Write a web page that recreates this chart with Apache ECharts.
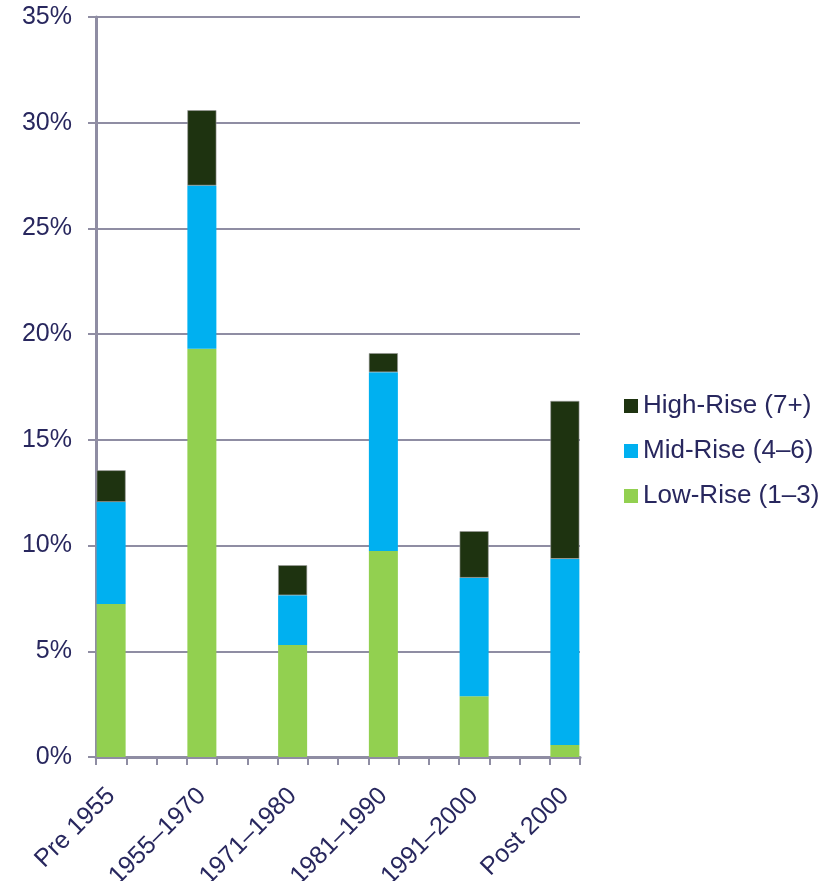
<!DOCTYPE html>
<html><head><meta charset="utf-8">
<script src="https://cdn.jsdelivr.net/npm/echarts@6/dist/echarts.min.js"></script>
<style>html,body{margin:0;padding:0;background:#fff}#c{width:838px;height:881px}</style>
</head><body><div id="c"></div>
<script>
const categories = ['Pre 1955','1955–1970','1971–1980','1981–1990','1991–2000','Post 2000'];
const lowRise  = [7.24, 19.31, 5.30, 9.74, 2.87, 0.57];
const midRise  = [4.82, 7.72, 2.35, 8.46, 5.61, 8.80];
const highRise = [1.50, 3.56, 1.42, 0.90, 2.20, 7.47];
const seriesNames = ['Low-Rise (1–3)','Mid-Rise (4–6)','High-Rise (7+)'];
const yTicks = [0,5,10,15,20,25,30,35];

// 16 slots on the category axis; bars sit in every third slot
const SLOTS = 16, STEP = 3;
const axisCats = [];
for (let i = 0; i < SLOTS; i++) axisCats.push('');
categories.forEach((c, i) => { axisCats[i * STEP] = c; });
function spread(arr) {
  const out = new Array(SLOTS).fill(null);
  arr.forEach((v, i) => { out[i * STEP] = v; });
  return out;
}
const txt = '#28275e', ax = '#8f8da3';
const font = 'Liberation Sans, Arial, sans-serif';
const chart = echarts.init(document.getElementById('c'));
chart.setOption({
  animation: false,
  grid: {left: 96, right: 258, top: 17, bottom: 124, containLabel: false, outerBoundsMode: 'none'},
  legend: {
    orient: 'vertical', left: 619, top: 388,
    data: [seriesNames[2], seriesNames[1], seriesNames[0]],
    itemWidth: 14, itemHeight: 14, itemGap: 19, icon: 'rect',
    itemStyle: {borderWidth: 0},
    textStyle: {color: txt, fontSize: 26, fontFamily: font, padding: [0,0,0,0]}
  },
  xAxis: {
    type: 'category', data: axisCats,
    axisLine: {lineStyle: {color: ax, width: 3}},
    axisTick: {show: true, interval: 0, length: 8, lineStyle: {color: ax, width: 2}},
    axisLabel: {interval: 0, rotate: 45, color: txt, fontSize: 25, fontFamily: font, margin: 35}
  },
  yAxis: {
    type: 'value', min: 0, max: 35, interval: 5,
    axisLine: {show: true, lineStyle: {color: ax, width: 3}},
    axisTick: {show: true, length: 8, lineStyle: {color: ax, width: 2}},
    splitLine: {lineStyle: {color: ax, width: 2}},
    axisLabel: {color: txt, fontSize: 25, fontFamily: font, margin: 24,
      formatter: v => yTicks.includes(v) ? v + '%' : ''}
  },
  series: [
    {name: seriesNames[0], type: 'bar', stack: 's', data: spread(lowRise), barWidth: 29,
     itemStyle: {color: '#92d050'}},
    {name: seriesNames[1], type: 'bar', stack: 's', data: spread(midRise), barWidth: 29,
     itemStyle: {color: '#00b0f0'}},
    {name: seriesNames[2], type: 'bar', stack: 's', data: spread(highRise), barWidth: 29,
     itemStyle: {color: '#1e3310', borderColor: '#9a9a9a', borderWidth: 0.6}}
  ]
});
</script></body></html>
